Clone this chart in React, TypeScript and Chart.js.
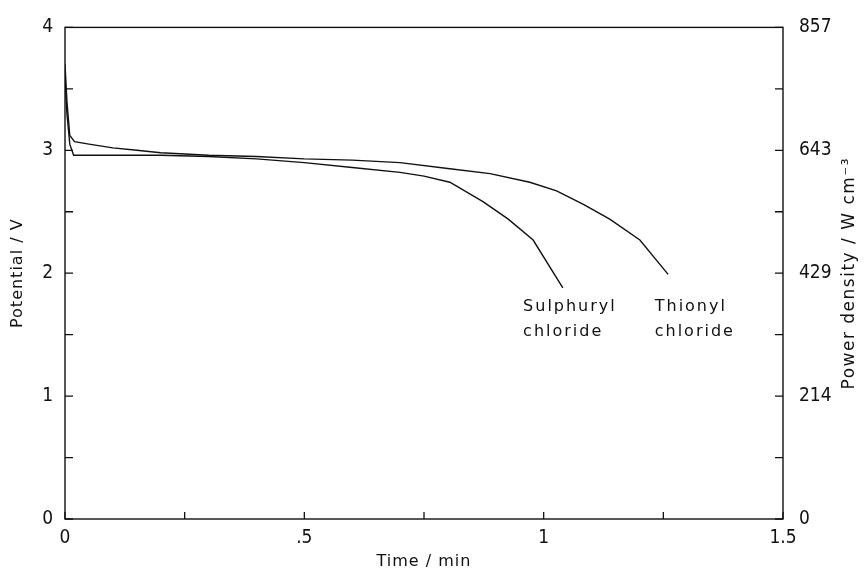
import React, { useEffect, useRef } from 'react';
import { Chart, registerables } from 'chart.js';

Chart.register(...registerables);

// Time (min) and potential (V) readings
const thionylTime = [0, 0.004, 0.01, 0.02, 0.05, 0.1, 0.15, 0.2, 0.3, 0.4, 0.5, 0.6, 0.7, 0.804, 0.888, 0.971, 1.027, 1.083, 1.138, 1.201, 1.26];
const thionylPotential = [3.7, 3.4, 3.12, 3.07, 3.05, 3.02, 3.0, 2.98, 2.96, 2.95, 2.93, 2.92, 2.9, 2.85, 2.81, 2.74, 2.67, 2.56, 2.44, 2.27, 1.99];
const sulphurylTime = [0, 0.004, 0.01, 0.018, 0.05, 0.1, 0.2, 0.3, 0.4, 0.5, 0.6, 0.7, 0.75, 0.804, 0.874, 0.926, 0.978, 1.04];
const sulphurylPotential = [3.6, 3.3, 3.05, 2.96, 2.96, 2.96, 2.96, 2.95, 2.93, 2.9, 2.86, 2.82, 2.79, 2.74, 2.58, 2.44, 2.27, 1.88];

const seriesNames = ['Thionyl chloride', 'Sulphuryl chloride'];

const xTickValues = [0, 0.25, 0.5, 0.75, 1, 1.25, 1.5];
const xTickLabels = ['0', '', '.5', '', '1', '', '1.5'];
const yTickValues = [0, 0.5, 1, 1.5, 2, 2.5, 3, 3.5, 4];
const yTickLabels = ['0', '', '1', '', '2', '', '3', '', '4'];
const rightTickLabels = ['0', '', '214', '', '429', '', '643', '', '857'];

const xTitle = 'Time / min';
const yTitle = 'Potential / V';
const rightTitle = 'Power density / W cm\u207B\u00B3';

const TICK_FONT = "'DejaVu Sans Condensed', 'Liberation Sans Narrow', 'Arial Narrow', sans-serif";
const TEXT_FONT = "'DejaVu Sans', sans-serif";

// label anchors in data units (time, potential)
const seriesLabelAnchors = [
  { x: 1.232, y: 1.73 },
  { x: 0.957, y: 1.73 },
];

const framePlugin = {
  id: 'framePlugin',
  afterDraw(chart: any) {
    const { ctx, chartArea, scales } = chart;
    const { left, right, top, bottom } = chartArea;
    ctx.save();
    ctx.strokeStyle = '#111';
    ctx.lineWidth = 1.4;
    ctx.strokeRect(left, top, right - left, bottom - top);
    // inward ticks
    ctx.lineWidth = 1.3;
    ctx.beginPath();
    scales.x.ticks.forEach((t: any) => {
      const px = scales.x.getPixelForValue(t.value);
      ctx.moveTo(px, bottom);
      ctx.lineTo(px, bottom - 7);
    });
    scales.y.ticks.forEach((t: any) => {
      const py = scales.y.getPixelForValue(t.value);
      ctx.moveTo(left, py);
      ctx.lineTo(left + 8, py);
    });
    scales.y2.ticks.forEach((t: any) => {
      const py = scales.y2.getPixelForValue(t.value);
      ctx.moveTo(right, py);
      ctx.lineTo(right - 8, py);
    });
    ctx.stroke();

    ctx.fillStyle = '#111';
    ctx.textAlign = 'center';
    ctx.textBaseline = 'middle';
    const midY = (top + bottom) / 2;

    // x title
    ctx.font = `16px ${TEXT_FONT}`;
    (ctx as any).letterSpacing = '1px';
    ctx.fillText(xTitle, (left + right) / 2, 562);

    // left title (reads bottom to top)
    ctx.translate(18, midY);
    ctx.rotate(-Math.PI / 2);
    ctx.fillText(yTitle, 0, 0);
    ctx.setTransform(1, 0, 0, 1, 0, 0);

    // right axis title (reads bottom to top)
    ctx.font = `17px ${TEXT_FONT}`;
    (ctx as any).letterSpacing = '1.5px';
    ctx.translate(850, midY);
    ctx.rotate(-Math.PI / 2);
    ctx.fillText(rightTitle, 0, 0);
    ctx.setTransform(1, 0, 0, 1, 0, 0);

    // series labels
    ctx.textAlign = 'left';
    ctx.font = `16px ${TEXT_FONT}`;
    (ctx as any).letterSpacing = '2px';
    seriesNames.forEach((name, i) => {
      const a = seriesLabelAnchors[i];
      const px = scales.x.getPixelForValue(a.x);
      const py = scales.y.getPixelForValue(a.y);
      const parts = name.split(' ');
      ctx.fillText(parts[0], px, py);
      ctx.fillText(parts[1], px, py + 25);
    });
    ctx.restore();
  },
};

export default function App() {
  const ref = useRef<HTMLCanvasElement | null>(null);

  useEffect(() => {
    if (!ref.current) return;
    const toPts = (xs: number[], ys: number[]) => xs.map((x, i) => ({ x, y: ys[i] }));
    const chart = new Chart(ref.current, {
      type: 'line',
      data: {
        datasets: [
          {
            label: seriesNames[0],
            data: toPts(thionylTime, thionylPotential),
            borderColor: '#111',
            borderWidth: 1.4,
            pointRadius: 0,
            tension: 0,
            fill: false,
          },
          {
            label: seriesNames[1],
            data: toPts(sulphurylTime, sulphurylPotential),
            borderColor: '#111',
            borderWidth: 1.4,
            pointRadius: 0,
            tension: 0,
            fill: false,
          },
        ],
      },
      options: {
        responsive: false,
        animation: false,
        devicePixelRatio: 1,
        layout: { padding: { top: 24, left: 0, right: 0, bottom: 0 } },
        plugins: { legend: { display: false }, tooltip: { enabled: false } },
        scales: {
          x: {
            type: 'linear',
            min: 0,
            max: 1.5,
            afterBuildTicks: (s: any) => {
              s.ticks = xTickValues.map((v) => ({ value: v }));
            },
            afterFit: (s: any) => {
              s.height = 55;
            },
            grid: { display: false, drawTicks: false },
            border: { display: false },
            ticks: {
              autoSkip: false,
              maxRotation: 0,
              padding: 8,
              color: '#111',
              font: { family: TICK_FONT, size: 19 },
              callback: (_v: any, i: number) => xTickLabels[i],
            },
            title: { display: false },
          },
          y: {
            type: 'linear',
            position: 'left',
            min: 0,
            max: 4,
            afterBuildTicks: (s: any) => {
              s.ticks = yTickValues.map((v) => ({ value: v }));
            },
            afterFit: (s: any) => {
              s.width = 65;
            },
            grid: { display: false, drawTicks: false },
            border: { display: false },
            ticks: {
              autoSkip: false,
              padding: 12,
              color: '#111',
              font: { family: TICK_FONT, size: 19 },
              callback: (_v: any, i: number) => yTickLabels[i],
            },
            title: { display: false },
          },
          y2: {
            type: 'linear',
            position: 'right',
            min: 0,
            max: 4,
            afterBuildTicks: (s: any) => {
              s.ticks = yTickValues.map((v) => ({ value: v }));
            },
            afterFit: (s: any) => {
              s.width = 84;
            },
            grid: { display: false, drawTicks: false },
            border: { display: false },
            ticks: {
              autoSkip: false,
              padding: 16,
              color: '#111',
              font: { family: TICK_FONT, size: 19 },
              callback: (_v: any, i: number) => rightTickLabels[i],
            },
          },
        },
      },
      plugins: [framePlugin],
    } as any);
    return () => chart.destroy();
  }, []);

  return (
    <div style={{ position: 'absolute', left: 0, top: 0, width: 867, height: 574, background: '#fff' }}>
      <canvas ref={ref} width={867} height={574} />
    </div>
  );
}
